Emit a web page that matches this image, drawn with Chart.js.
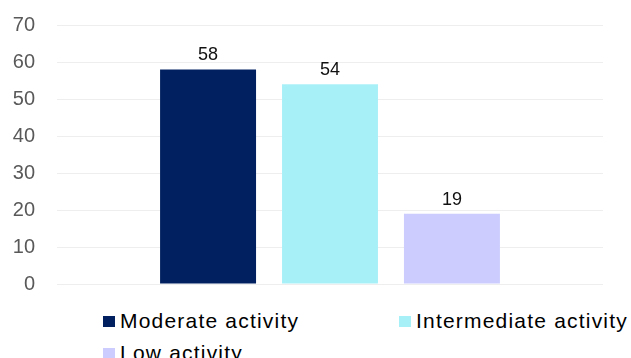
<!DOCTYPE html>
<html>
<head>
<meta charset="utf-8">
<script src="https://cdn.jsdelivr.net/npm/chart.js@4.4.0/dist/chart.umd.min.js"></script>
<style>
  html, body { margin: 0; padding: 0; background: #fff; }
  #wrap { position: relative; width: 631px; height: 358px; overflow: hidden; font-family: "Liberation Sans", Arial, sans-serif; }
  #chartBox { position: absolute; left: 0; top: 0; width: 631px; height: 300px; }
  #legend { position: absolute; left: 0; top: 309px; width: 631px; }
  .item { position: absolute; display: flex; align-items: center; font-size: 21px; letter-spacing: 1.2px; color: #000; white-space: nowrap; }
  .item span.box { width: 12px; height: 11px; margin-right: 5px; flex: none; }
</style>
</head>
<body>
<div id="wrap">
  <div id="chartBox"><canvas id="chart"></canvas></div>
  <div id="legend"></div>
</div>
<script>
const seriesNames = ["Moderate activity", "Intermediate activity", "Low activity"];
const seriesValues = [58, 54, 19];
const seriesColors = ["#002060", "#A8F0F8", "#CCCCFF"];
const yTicks = [0, 10, 20, 30, 40, 50, 60, 70];

// value labels above each bar
const valueLabels = {
  id: 'valueLabels',
  afterDatasetsDraw(chart) {
    const ctx = chart.ctx;
    ctx.save();
    ctx.font = '18px "Liberation Sans", Arial, sans-serif';
    ctx.fillStyle = '#111';
    ctx.textAlign = 'center';
    ctx.textBaseline = 'bottom';
    chart.data.datasets.forEach((ds, i) => {
      chart.getDatasetMeta(i).data.forEach((bar, j) => {
        ctx.fillText(ds.data[j], bar.x, bar.y - 5);
      });
    });
    ctx.restore();
  }
};

new Chart(document.getElementById('chart'), {
  type: 'bar',
  data: {
    labels: [''],
    datasets: seriesNames.map((name, i) => ({
      label: name,
      data: [seriesValues[i]],
      backgroundColor: seriesColors[i],
      categoryPercentage: 0.67,
      barPercentage: 0.787
    }))
  },
  options: {
    responsive: true,
    maintainAspectRatio: false,
    animation: false,
    layout: { padding: { left: 13, right: 28, top: 25, bottom: 16 } },
    plugins: { legend: { display: false }, tooltip: { enabled: false } },
    scales: {
      x: { display: false },
      y: {
        min: 0,
        max: 70,
        afterBuildTicks(scale) { scale.ticks = yTicks.map(v => ({ value: v })); },
        afterFit(scale) {
          scale.width = 44;
          scale.paddingTop = 12;
          scale.paddingBottom = 12;
        },
        border: { display: false },
        grid: { color: '#EEEEEE', drawTicks: false },
        ticks: {
          padding: 22,
          color: '#595959',
          font: { family: '"Liberation Sans", Arial, sans-serif', size: 20 }
        }
      }
    }
  },
  plugins: [valueLabels]
});

// legend laid out like the original: two columns, wrapping
const legend = document.getElementById('legend');
const legendPos = [[103, 0], [399, 0], [103, 32]];
seriesNames.forEach((name, i) => {
  const el = document.createElement('div');
  el.className = 'item';
  el.style.left = legendPos[i][0] + 'px';
  el.style.top = legendPos[i][1] + 'px';
  el.innerHTML = '<span class="box" style="background:' + seriesColors[i] + '"></span>' + name;
  legend.appendChild(el);
});
</script>
</body>
</html>
